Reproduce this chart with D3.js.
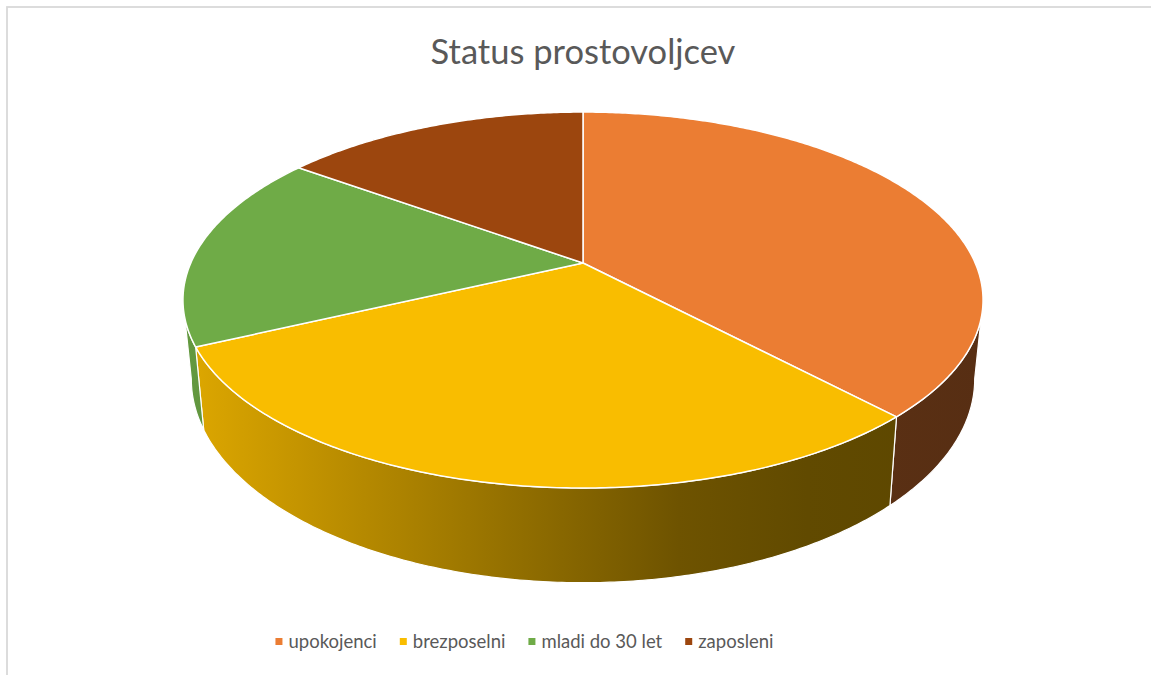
<!DOCTYPE html>
<html>
<head>
<meta charset="utf-8">
<script src="https://cdn.jsdelivr.net/npm/d3@7"></script>
<style>
  body { margin: 0; background: #fff; }
  text { font-family: Lato, "Open Sans", sans-serif; }
</style>
</head>
<body>
<svg id="chart" width="1151" height="675"></svg>
<script>
// data
const title = "Status prostovoljcev";
const categories = ["upokojenci", "brezposelni", "mladi do 30 let", "zaposleni"];
const values = [38, 30, 17, 15];
const colors = ["#EB7D33", "#F9BD00", "#6FAB47", "#9C460E"];

const svg = d3.select("#chart");

// chart frame
svg.append("rect")
  .attr("x", 7).attr("y", 7)
  .attr("width", 1170).attr("height", 700)
  .attr("fill", "#fff")
  .attr("stroke", "#D9D9D9")
  .attr("stroke-width", 1.8);

svg.append("text")
  .text(title)
  .attr("x", 583)
  .attr("y", 64)
  .attr("text-anchor", "middle")
  .attr("font-size", "34.5px")
  .attr("fill", "#595959");

// perspective projection of the pie disc
const cx = 583, cy = 263;
const pb = 0.197;          // perspective strength
const A = 180.7;           // vertical radius factor
const B = 392.2;           // horizontal radius factor (top face)
const B2 = 384;            // horizontal radius factor (bottom face)
const H = 76;              // depth of the pie

function topPt(t) {
  const u = Math.sin(t), v = -Math.cos(t), w = 1 - pb * v;
  return [cx + B * u / w, cy + A * v / w];
}
function bottomPt(t) {
  const u = Math.sin(t), v = -Math.cos(t), w = 1 - pb * v;
  return [cx + B2 * u / w, cy + (A * v + H) / w];
}
function arcPts(f, a0, a1) {
  const n = Math.max(2, Math.ceil(Math.abs(a1 - a0) / 0.01));
  return d3.range(n + 1).map(i => f(a0 + (a1 - a0) * i / n));
}

const pie = d3.pie().sort(null).value(d => d)(values);
const line = d3.line();

// visible front wall: between the two silhouette angles
const sil = Math.acos(-pb);
const visA = sil, visB = 2 * Math.PI - sil;

// shading gradient for the walls
const defs = svg.append("defs");
const shade = [[0, 0.9], [0.03, 0.87], [0.4, 0.6], [0.62, 0.44], [0.78, 0.39], [1, 0.37]];
colors.forEach((c, i) => {
  const g = defs.append("linearGradient")
    .attr("id", "wall" + i)
    .attr("gradientUnits", "userSpaceOnUse")
    .attr("x1", 183).attr("x2", 983).attr("y1", 0).attr("y2", 0);
  const base = d3.rgb(c);
  shade.forEach(s => {
    g.append("stop")
      .attr("offset", s[0])
      .attr("stop-color", d3.rgb(base.r * s[1], base.g * s[1], base.b * s[1]).formatHex());
  });
});

// walls
const gWall = svg.append("g");
pie.forEach((d, i) => {
  const a0 = Math.max(d.startAngle, visA), a1 = Math.min(d.endAngle, visB);
  if (a1 <= a0) return;
  const pts = arcPts(topPt, a0, a1).concat(arcPts(bottomPt, a1, a0));
  gWall.append("path")
    .attr("d", line(pts) + "Z")
    .attr("fill", `url(#wall${i})`)
    .attr("stroke", "#fff")
    .attr("stroke-width", 1.2)
    .attr("stroke-linejoin", "round");
});

// top faces
const gTop = svg.append("g");
pie.forEach((d, i) => {
  const pts = [[cx, cy]].concat(arcPts(topPt, d.startAngle, d.endAngle));
  gTop.append("path")
    .attr("d", line(pts) + "Z")
    .attr("fill", colors[i])
    .attr("stroke", "#fff")
    .attr("stroke-width", 1.5)
    .attr("stroke-linejoin", "round");
});

// legend
const legend = svg.append("g");
const items = categories.map((c, i) => {
  const g = legend.append("g");
  g.append("rect")
    .attr("width", 7).attr("height", 7)
    .attr("y", -4)
    .attr("fill", colors[i]);
  const t = g.append("text")
    .text(c)
    .attr("x", 13)
    .attr("dy", "0.35em")
    .attr("font-size", "18.5px")
    .attr("fill", "#595959");
  return { g, w: 13 + t.node().getComputedTextLength() };
});
const gap = 23;
const total = d3.sum(items, d => d.w) + gap * (items.length - 1);
let lx = 524.5 - total / 2;
items.forEach(it => {
  it.g.attr("transform", `translate(${lx},642)`);
  lx += it.w + gap;
});
</script>
</body>
</html>
